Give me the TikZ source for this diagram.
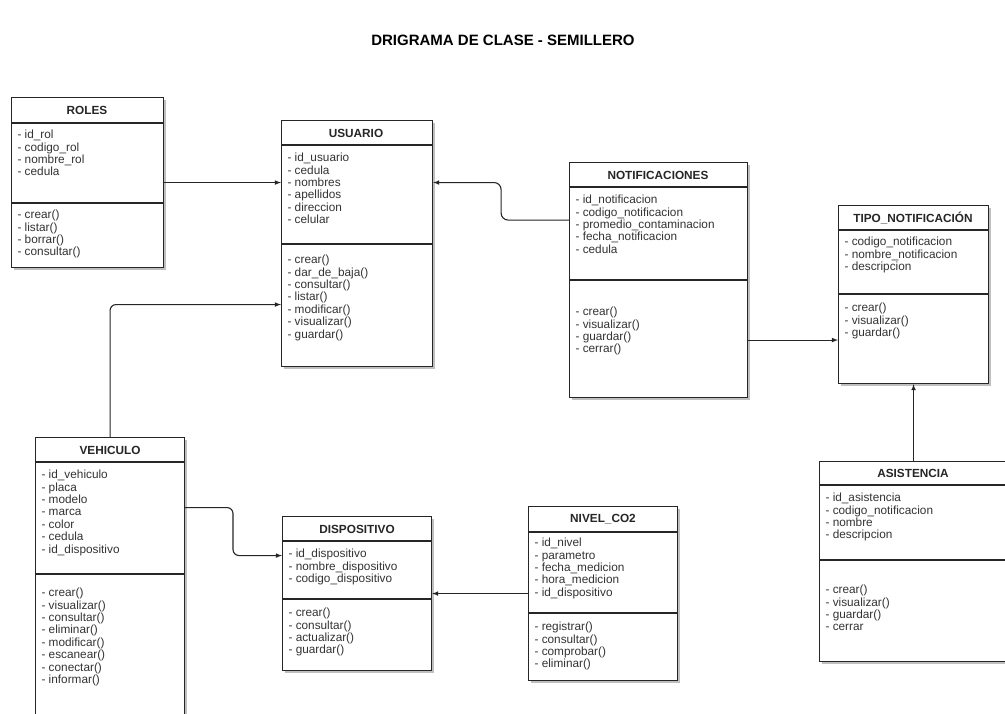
\documentclass[tikz,border=0pt]{standalone}
\usepackage{fontspec}
\setmainfont{Liberation Sans}
\usetikzlibrary{calc,shadows}

\begin{document}
\begin{tikzpicture}[x=1pt, y=-1pt, line width=1.1pt,
  clase/.style={draw=black!85, fill=white, anchor=north west, inner sep=0pt,
    drop shadow={shadow xshift=2.5pt, shadow yshift=-2.5pt, opacity=0.5}},
  titulo/.style={font=\bfseries\fontsize{11.8}{13}\selectfont, text=black!85},
  lista/.style={anchor=north west, align=left, inner sep=0pt, text=black!80,
    font=\fontsize{11.8}{12.4}\selectfont},
  flecha/.style={-latex, line width=1.1pt, black!85}]

\fill[white] (0,0) rectangle (1005,713);
\useasboundingbox (0,0) rectangle (1005,713);

\node[font=\bfseries\fontsize{15}{17}\selectfont] (cabecera) at (503,40) {DRIGRAMA DE CLASE - SEMILLERO};

% ROLES
\node[clase, minimum width=152pt, minimum height=170pt] (roles) at (11,97) {};
\node[titulo] (roles-tit) at (87,110) {ROLES};
\draw[black!85] (11,123) -- (163,123);
\draw[black!85] (11,203) -- (163,203);
\node[lista] (roles-atr) at (17,129.5) {- id\_rol\\- codigo\_rol\\- nombre\_rol\\- cedula};
\node[lista] (roles-met) at (17,209.5) {- crear()\\- listar()\\- borrar()\\- consultar()};

% USUARIO
\node[clase, minimum width=151pt, minimum height=246pt] (usuario) at (281,120) {};
\node[titulo] (usuario-tit) at (356,133) {USUARIO};
\draw[black!85] (281,145) -- (432,145);
\draw[black!85] (281,244) -- (432,244);
\node[lista] (usuario-atr) at (287,152.5) {- id\_usuario\\- cedula\\- nombres\\- apellidos\\- direccion\\- celular};
\node[lista] (usuario-met) at (287,254.5) {- crear()\\- dar\_de\_baja()\\- consultar()\\- listar()\\- modificar()\\- visualizar()\\- guardar()};

% NOTIFICACIONES
\node[clase, minimum width=178pt, minimum height=235pt] (notif) at (569,162) {};
\node[titulo] (notif-tit) at (658,175) {NOTIFICACIONES};
\draw[black!85] (569,187) -- (747,187);
\draw[black!85] (569,280) -- (747,280);
\node[lista] (notif-atr) at (575,194.5) {- id\_notificacion\\- codigo\_notificacion\\- promedio\_contaminacion\\- fecha\_notificacion\\- cedula};
\node[lista] (notif-met) at (575,306.5) {- crear()\\- visualizar()\\- guardar()\\- cerrar()};

% TIPO_NOTIFICACION
\node[clase, minimum width=150pt, minimum height=178pt] (tipo) at (838,205) {};
\node[titulo] (tipo-tit) at (913,218) {TIPO\_NOTIFICACIÓN};
\draw[black!85] (838,230) -- (988,230);
\draw[black!85] (838,294) -- (988,294);
\node[lista] (tipo-atr) at (844,236.5) {- codigo\_notificacion\\- nombre\_notificacion\\- descripcion};
\node[lista] (tipo-met) at (844,302.5) {- crear()\\- visualizar()\\- guardar()};

% VEHICULO
\node[clase, minimum width=149pt, minimum height=300pt] (vehiculo) at (35,437) {};
\node[titulo] (vehiculo-tit) at (110,450) {VEHICULO};
\draw[black!85] (35,462) -- (184,462);
\draw[black!85] (35,574) -- (184,574);
\node[lista] (vehiculo-atr) at (41,469.5) {- id\_vehiculo\\- placa\\- modelo\\- marca\\- color\\- cedula\\- id\_dispositivo};
\node[lista] (vehiculo-met) at (41,587.5) {- crear()\\- visualizar()\\- consultar()\\- eliminar()\\- modificar()\\- escanear()\\- conectar()\\- informar()};

% DISPOSITIVO
\node[clase, minimum width=149pt, minimum height=154pt] (dispositivo) at (282,516) {};
\node[titulo] (dispositivo-tit) at (357,529) {DISPOSITIVO};
\draw[black!85] (282,541) -- (431,541);
\draw[black!85] (282,599) -- (431,599);
\node[lista] (dispositivo-atr) at (288,548.5) {- id\_dispositivo\\- nombre\_dispositivo\\- codigo\_dispositivo};
\node[lista] (dispositivo-met) at (288,607.5) {- crear()\\- consultar()\\- actualizar()\\- guardar()};

% NIVEL_CO2
\node[clase, minimum width=149pt, minimum height=174pt] (nivel) at (528,506) {};
\node[titulo] (nivel-tit) at (603,519) {NIVEL\_CO2};
\draw[black!85] (528,532) -- (677,532);
\draw[black!85] (528,613) -- (677,613);
\node[lista] (nivel-atr) at (534,537.5) {- id\_nivel\\- parametro\\- fecha\_medicion\\- hora\_medicion\\- id\_dispositivo};
\node[lista] (nivel-met) at (534,621.5) {- registrar()\\- consultar()\\- comprobar()\\- eliminar()};

% ASISTENCIA
\node[clase, minimum width=195pt, minimum height=200pt] (asistencia) at (819,461) {};
\node[titulo] (asistencia-tit) at (913,473) {ASISTENCIA};
\draw[black!85] (819,485) -- (1014,485);
\draw[black!85] (819,560) -- (1014,560);
\node[lista] (asistencia-atr) at (825,492.5) {- id\_asistencia\\- codigo\_notificacion\\- nombre\\- descripcion};
\node[lista] (asistencia-met) at (825,584.5) {- crear()\\- visualizar()\\- guardar()\\- cerrar};

% conectores
\draw[flecha] (roles.east) -- (roles.east -| usuario.west);
\draw[flecha, rounded corners=6pt] (vehiculo.north) |- ($(usuario.west)+(0,61)$);

\coordinate (n-sal) at ($(notif.west)+(0,-60)$);
\coordinate (u-ent) at ($(usuario.east)+(0,-61)$);
\draw[flecha, rounded corners=7pt] (n-sal) -| ($(u-ent)+(68,0)$) -- (u-ent);

\coordinate (n-t) at ($(notif.east)+(0,60)$);
\draw[flecha] (n-t) -- (n-t -| tipo.west);

\draw[flecha] (asistencia.north -| tipo.south) -- (tipo.south);

\coordinate (v-sal) at ($(vehiculo.east)+(0,-80)$);
\coordinate (d-ent) at ($(dispositivo.west)+(0,-38)$);
\draw[flecha, rounded corners=6pt] (v-sal) -| ($(d-ent)+(-49,0)$) -- (d-ent);

\draw[flecha] (nivel.west) -- (dispositivo.east);

\end{tikzpicture}
\end{document}
